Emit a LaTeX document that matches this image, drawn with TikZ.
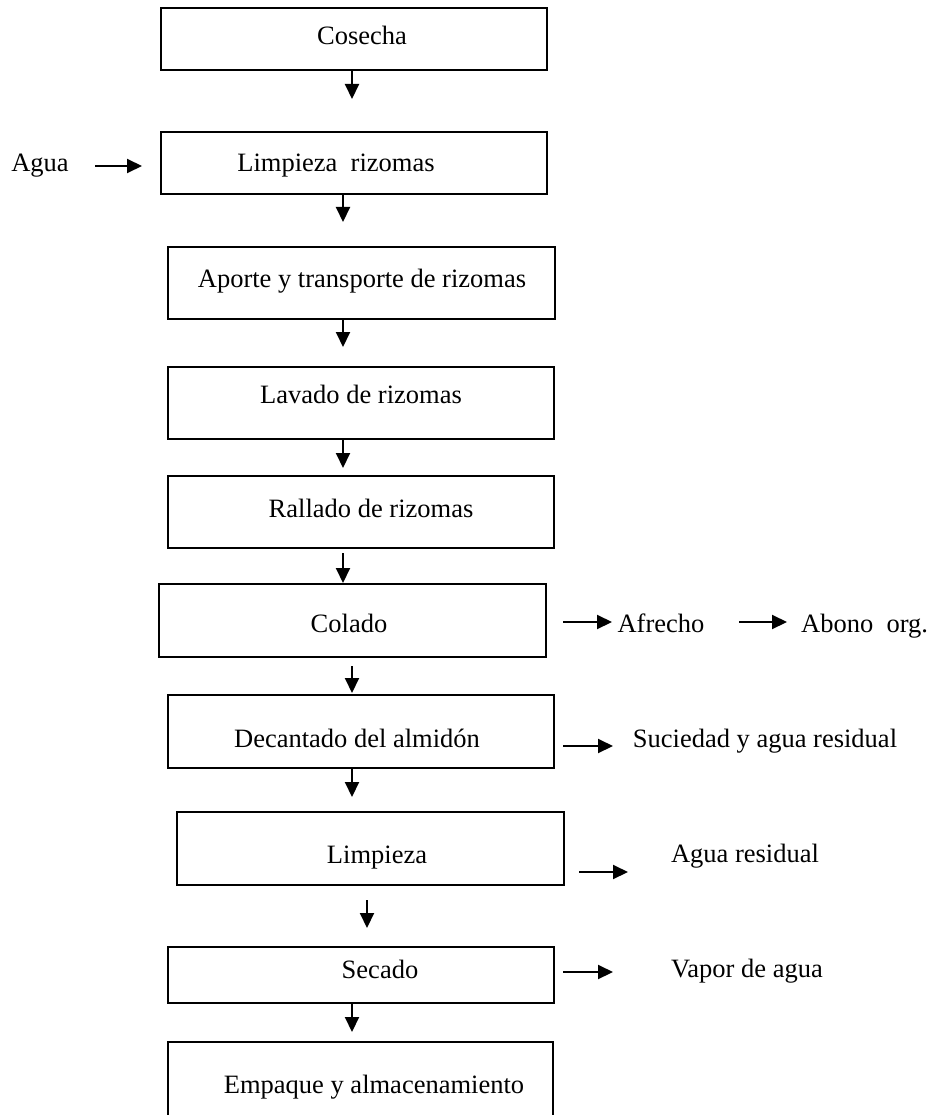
\documentclass[tikz,border=0pt]{standalone}
\usepackage{fontspec}
\setmainfont{Liberation Serif}
\usetikzlibrary{arrows.meta}
\begin{document}
\begin{tikzpicture}[x=1pt,y=-1pt,
  box/.style={draw, line width=2pt, inner sep=0pt},
  txt/.style={font=\fontsize{26.5}{30}\selectfont, inner sep=0pt, anchor=base},
  arr/.style={line width=2pt, -{Triangle[length=15pt,width=14pt]}}]
\path[use as bounding box] (0,0) rectangle (938,1115);
\clip (0,0) rectangle (938,1115);
% boxes
\node[box, minimum width=386pt, minimum height=62pt] (b1) at (354,39) {};
\node[box, minimum width=386pt, minimum height=62pt] (b2) at (354,163) {};
\node[box, minimum width=387pt, minimum height=72pt] (b3) at (361.5,283) {};
\node[box, minimum width=386pt, minimum height=72pt] (b4) at (361,403) {};
\node[box, minimum width=386pt, minimum height=72pt] (b5) at (361,512) {};
\node[box, minimum width=387pt, minimum height=73pt] (b6) at (352.5,620.5) {};
\node[box, minimum width=386pt, minimum height=73pt] (b7) at (361,731.5) {};
\node[box, minimum width=387pt, minimum height=73pt] (b8) at (370.5,848.5) {};
\node[box, minimum width=386pt, minimum height=56pt] (b9) at (361,975) {};
\node[box, minimum width=385pt, minimum height=76pt] (b10) at (360.5,1080) {};
% texts
\node[txt] (t1) at (362,45) {Cosecha};
\node[txt] (t2) at (336,172) {Limpieza\ \ rizomas};
\node[txt] (agua) at (40,172) {Agua};
\node[txt] (t3) at (362,287) {Aporte y transporte de rizomas};
\node[txt] (t4) at (361,403) {Lavado de rizomas};
\node[txt] (t5) at (371,517) {Rallado de rizomas};
\node[txt] (t6) at (349,632) {Colado};
\node[txt] (afrecho) at (661,632) {Afrecho};
\node[txt, anchor=base west] (abono) at (801,632) {Abono\ \ org.};
\node[txt] (t7) at (357,747) {Decantado del almidón};
\node[txt] (suc) at (765,747) {Suciedad y agua residual};
\node[txt] (t8) at (377,863) {Limpieza};
\node[txt] (ares) at (745,862) {Agua residual};
\node[txt] (t9) at (380,978) {Secado};
\node[txt] (vap) at (747,977) {Vapor de agua};
\node[txt] (t10) at (374,1093) {Empaque y almacenamiento};
% coordinates for free arrow ends
\coordinate (e1) at (352,99);
\coordinate (e2) at (343,222);
\coordinate (e3) at (343,347);
\coordinate (e4) at (343,468);
\coordinate (s5) at (343,553);
\coordinate (s6) at (352,666);
\coordinate (e6) at (352,693);
\coordinate (e7) at (352,797);
\coordinate (s8) at (367,900);
\coordinate (e8) at (367,928);
\coordinate (e9) at (352,1032);
\coordinate (ha1) at (95,166);
\coordinate (hb1) at (142,166);
\coordinate (ha2) at (563,622);
\coordinate (hb2) at (612,622);
\coordinate (ha3) at (739,622);
\coordinate (hb3) at (787,622);
\coordinate (ha4) at (563,746);
\coordinate (hb4) at (613,746);
\coordinate (ha5) at (579,872);
\coordinate (hb5) at (628,872);
\coordinate (ha6) at (563,972);
\coordinate (hb6) at (613,972);
% vertical arrows
\draw[arr] (b1.south -| e1) -- (e1);
\draw[arr] (b2.south -| e2) -- (e2);
\draw[arr] (b3.south -| e3) -- (e3);
\draw[arr] (b4.south -| e4) -- (e4);
\draw[arr] (s5) -- (b6.north -| s5);
\draw[arr] (s6) -- (e6);
\draw[arr] (b7.south -| e7) -- (e7);
\draw[arr] (s8) -- (e8);
\draw[arr] (b9.south -| e9) -- (e9);
% horizontal arrows
\draw[arr] (ha1) -- (hb1);
\draw[arr] (ha2) -- (hb2);
\draw[arr] (ha3) -- (hb3);
\draw[arr] (ha4) -- (hb4);
\draw[arr] (ha5) -- (hb5);
\draw[arr] (ha6) -- (hb6);
\end{tikzpicture}
\end{document}
